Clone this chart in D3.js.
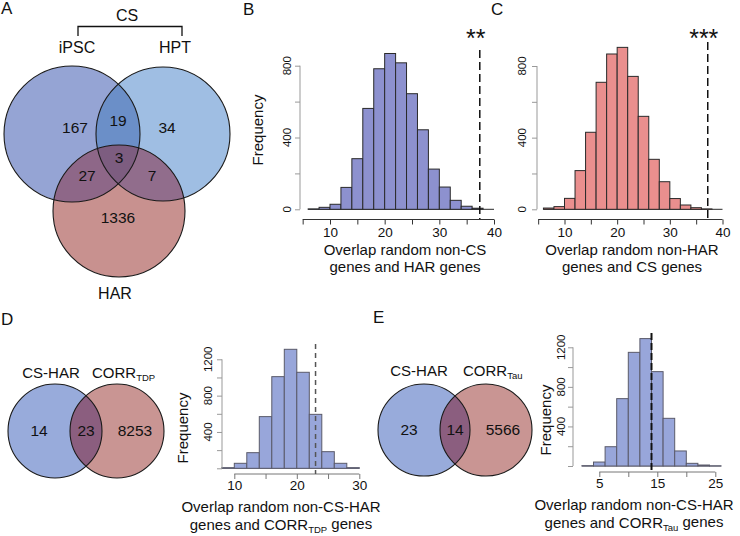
<!DOCTYPE html>
<html><head><meta charset="utf-8">
<script src="https://cdn.jsdelivr.net/npm/d3@7"></script>
<style>
body{margin:0;background:#fff}
svg{display:block}
text{font-family:"Liberation Sans",Arial,Helvetica,sans-serif;fill:#111}
</style>
</head><body>
<svg id="chart" width="740" height="536"></svg>
<script>
// ---------------- DATA ----------------
const panelLetters = ["A","B","C","D","E"];

// Panel A: 3-set Venn
const vennASets = ["iPSC","HPT","HAR"];
const vennAGroupLabel = "CS";
const vennARegions = ["iPSC","iPSC&HPT","HPT","iPSC&HAR","iPSC&HPT&HAR","HPT&HAR","HAR"];
const vennACounts = [167,19,34,27,3,7,1336];

// Panel D: 2-set Venn
const vennDSets = ["CS-HAR","CORR"];
const vennDSub = "TDP";
const vennDCounts = [14,23,8253];   // left only, overlap, right only

// Panel E: 2-set Venn
const vennESets = ["CS-HAR","CORR"];
const vennESub = "Tau";
const vennECounts = [23,14,5566];

// Panel B histogram (bin starts, width 2)
const histBBins = [6,8,10,12,14,16,18,20,22,24,26,28,30,32,34,36];
const histBCounts = [2,11,28,122,282,562,783,868,816,644,443,224,124,50,17,6];
const histBObserved = 37.4;
const histBStars = "**";
const histBTitle = ["Overlap random non-CS","genes and HAR genes"];

// Panel C histogram
const histCBins = [6,8,10,12,14,16,18,20,22,24,26,28,30,32,34,36];
const histCCounts = [7,15,61,216,430,709,867,904,742,519,279,154,60,24,9,2];
const histCObserved = 37.2;
const histCStars = "***";
const histCTitle = ["Overlap random non-HAR","genes and CS genes"];

// Panel D histogram
const histDBins = [8,10,12,14,16,18,20,22,24,26,28];
const histDCounts = [7,55,172,569,1009,1310,1057,594,183,55,7];
const histDObserved = 23;
const histDTitle = ["Overlap random non-CS-HAR","genes and CORR","TDP"," genes"];

// Panel E histogram
const histEBins = [2,4,6,8,10,12,14,16,18,20,22,24];
const histECounts = [3,40,195,681,1149,1288,954,482,152,27,10,1];
const histEObserved = 14;
const histETitle = ["Overlap random non-CS-HAR","genes and CORR","Tau"," genes"];

// Axis ticks
const ticksBCx = [5,10,15,20,25,30,35,40], labelsBCx = [10,20,30,40];
const ticksBCy = [0,200,400,600,800], labelsBCy = [0,400,800];
const ticksDx = [10,15,20,25,30], labelsDx = [10,20,30];
const ticksEx = [5,10,15,20,25], labelsEx = [5,15,25];
const ticksDEy = [0,200,400,600,800,1000,1200], labelsDEy = [400,800,1200];

// ---------------- DRAW ----------------
const svg = d3.select("#chart");

// panel letters
const letterPos = [[1,14],[243,15],[491,15],[1,325],[373,323]];
panelLetters.forEach((l,i)=>{
  svg.append("text").attr("x",letterPos[i][0]).attr("y",letterPos[i][1])
    .style("font-size","17px").text(l);
});

// ---- Panel A Venn ----
(function(){
  const g = svg.append("g");
  const circ = [{cx:72,cy:134,r:68},{cx:163,cy:134,r:67},{cx:119,cy:211,r:66}];
  const cols = {A:"#95a4d4",B:"#9fbee3",C:"#c8918f",AB:"#6b8fc8",AC:"#8e6788",BC:"#916d8c",ABC:"#7d5d80"};
  const defs = svg.append("defs");
  ["vA","vB","vC"].forEach((id,i)=>{
    defs.append("clipPath").attr("id",id).append("circle")
      .attr("cx",circ[i].cx).attr("cy",circ[i].cy).attr("r",circ[i].r);
  });
  const c = (sel,i,fill)=>sel.append("circle").attr("cx",circ[i].cx).attr("cy",circ[i].cy).attr("r",circ[i].r).attr("fill",fill);
  c(g,0,cols.A); c(g,1,cols.B); c(g,2,cols.C);
  c(g.append("g").attr("clip-path","url(#vA)"),1,cols.AB);
  c(g.append("g").attr("clip-path","url(#vA)"),2,cols.AC);
  c(g.append("g").attr("clip-path","url(#vB)"),2,cols.BC);
  c(g.append("g").attr("clip-path","url(#vA)").append("g").attr("clip-path","url(#vB)"),2,cols.ABC);
  circ.forEach((d,i)=>c(g,i,"none").attr("stroke","#1a1a1a").attr("stroke-width",1.1));
  const regionPos = {"iPSC":[75,127],"iPSC&HPT":[118,120],"HPT":[167,127],"iPSC&HAR":[87,175],
    "iPSC&HPT&HAR":[119,157],"HPT&HAR":[152,175],"HAR":[118,217]};
  vennARegions.forEach((r,i)=>{
    g.append("text").attr("x",regionPos[r][0]).attr("y",regionPos[r][1]).attr("dy","0.36em")
      .attr("text-anchor","middle").style("font-size","15.5px").text(vennACounts[i]);
  });
  const labPos = [[77,47],[175,47],[115,293]];
  vennASets.forEach((s,i)=>{
    g.append("text").attr("x",labPos[i][0]).attr("y",labPos[i][1]).attr("dy","0.36em")
      .attr("text-anchor","middle").style("font-size","16px").text(s);
  });
  g.append("text").attr("x",127).attr("y",15).attr("dy","0.36em").attr("text-anchor","middle")
    .style("font-size","16px").text(vennAGroupLabel);
  g.append("path").attr("d","M78,36V26.5H182V36").attr("fill","none").attr("stroke","#111").attr("stroke-width",1.3);
})();

// ---- 2-set Venns ----
function venn2(cx1,cx2,cy,r,sets,sub,counts,labY,labX1,corrX){
  const g = svg.append("g");
  const id = "v2"+Math.round(cx1);
  svg.select("defs").append("clipPath").attr("id",id).append("circle").attr("cx",cx1).attr("cy",cy).attr("r",r);
  g.append("circle").attr("cx",cx1).attr("cy",cy).attr("r",r).attr("fill","#98abdb");
  g.append("circle").attr("cx",cx2).attr("cy",cy).attr("r",r).attr("fill","#c99593");
  g.append("g").attr("clip-path",`url(#${id})`).append("circle").attr("cx",cx2).attr("cy",cy).attr("r",r).attr("fill","#8b5e7f");
  [cx1,cx2].forEach(x=>g.append("circle").attr("cx",x).attr("cy",cy).attr("r",r).attr("fill","none").attr("stroke","#1a1a1a").attr("stroke-width",1.1));
  const ov = (cx1+r + cx2-r)/2;
  const pos = [ (cx1-r+cx2-r)/2 , ov, (cx1+r+cx2+r)/2 + 2 ];
  counts.forEach((v,i)=>{
    g.append("text").attr("x",pos[i]).attr("y",cy-1).attr("dy","0.36em").attr("text-anchor","middle")
      .style("font-size","15.5px").text(v);
  });
  g.append("text").attr("x",labX1).attr("y",labY).attr("dy","0.36em").attr("text-anchor","middle")
    .style("font-size","15px").text(sets[0]);
  const t = g.append("text").attr("x",corrX).attr("y",labY).attr("dy","0.36em").style("font-size","15px");
  t.append("tspan").text(sets[1]);
  t.append("tspan").attr("dy","0.3em").style("font-size","9.5px").text(sub);
}
venn2(55,117,431,47,vennDSets,vennDSub,vennDCounts,373,51,92);
venn2(424,486,430,46,vennESets,vennESub,vennECounts,371,419,463);

// ---- Histograms ----
function hist(o){
  const g = svg.append("g");
  const x = d3.scaleLinear().domain(o.xd).range(o.xr);
  const y = d3.scaleLinear().domain(o.yd).range(o.yr);
  g.append("line").attr("x1",x(o.base[0])).attr("x2",x(o.base[1])).attr("y1",y(0)).attr("y2",y(0))
    .attr("stroke",o.stroke).attr("stroke-width",1);
  g.selectAll("rect.bar").data(o.bins.map((b,i)=>({b,c:o.counts[i]}))).join("rect")
    .attr("x",d=>x(d.b)).attr("width",d=>x(d.b+2)-x(d.b))
    .attr("y",d=>y(d.c)).attr("height",d=>y(0)-y(d.c))
    .attr("fill",o.fill).attr("stroke",o.stroke).attr("stroke-width",o.sw||1);
  const xa = g.append("g").attr("transform",`translate(0,${o.xAxisY})`)
    .call(d3.axisBottom(x).tickValues(o.xt).tickSize(5).tickSizeOuter(0)
      .tickFormat(v=>o.xl.includes(v)?v:""));
  xa.select(".domain").remove();
  xa.append("line").attr("x1",x(o.xt[0])).attr("x2",x(o.xt[o.xt.length-1])).attr("stroke",o.xAxisCol);
  xa.selectAll(".tick line").attr("stroke",o.xAxisCol);
  xa.selectAll(".tick text").attr("y",o.xLabDy).attr("dy","0.36em").style("font-size","13.5px")
    .style("font-family","Liberation Sans, Arial, sans-serif").attr("fill","#111");
  const ya = g.append("g").attr("transform",`translate(${o.yAxisX},0)`)
    .call(d3.axisLeft(y).tickValues(o.yt).tickSize(5).tickSizeOuter(0).tickFormat(""));
  ya.select(".domain").remove();
  ya.append("line").attr("y1",y(o.yt[0])).attr("y2",y(o.yt[o.yt.length-1])).attr("stroke",o.yAxisCol);
  ya.selectAll(".tick line").attr("stroke",o.yAxisCol);
  o.yl.forEach(v=>{
    g.append("text").attr("transform",`translate(${o.yLabX},${y(v)}) rotate(-90)`)
      .attr("dy","0.36em").attr("text-anchor","middle").style("font-size","11.5px").text(v);
  });
  g.append("line").attr("x1",x(o.obs)).attr("x2",x(o.obs)).attr("y1",o.dashTop).attr("y2",o.dashBot)
    .attr("stroke",o.dashCol).attr("stroke-width",o.dashW).attr("stroke-dasharray",o.dash);
  if(o.stars){
    g.append("text").attr("x",x(o.obs)-4).attr("y",o.starY).attr("text-anchor","middle")
      .style("font-size","25px").text(o.stars);
  }
  if(o.freq){
    g.append("text").attr("transform",`translate(${o.freq[0]},${o.freq[1]}) rotate(-90)`)
      .attr("dy","0.36em").attr("text-anchor","middle").style("font-size","15px").text("Frequency");
  }
  g.append("text").attr("x",o.titleX).attr("y",o.titleY[0]).attr("dy","0.36em").attr("text-anchor","middle")
    .style("font-size","15px").text(o.title[0]);
  const t2 = g.append("text").attr("x",o.titleX).attr("y",o.titleY[1]).attr("dy","0.36em").attr("text-anchor","middle")
    .style("font-size","15px");
  if(o.title.length>2){
    t2.append("tspan").text(o.title[1]);
    t2.append("tspan").attr("dy","0.3em").style("font-size","9.5px").text(o.title[2]);
    t2.append("tspan").attr("dy","-0.3em").text(o.title[3]);
  } else t2.text(o.title[1]);
}

hist({xd:[10,40],xr:[330,494],yd:[0,800],yr:[209.3,65.7],bins:histBBins,counts:histBCounts,base:[6,40],
  fill:"#8d91cf",stroke:"#2a2a2a",xAxisY:219.5,xt:ticksBCx,xl:labelsBCx,xLabDy:12.5,xAxisCol:"#333",
  yAxisX:300,yt:ticksBCy,yl:labelsBCy,yLabX:287,yAxisCol:"#999",
  obs:histBObserved,dashTop:50,dashBot:219,dashCol:"#111",dashW:1.5,dash:"8,4",stars:histBStars,starY:47,
  freq:[258,130],title:histBTitle,titleX:405,titleY:[250,267]});

hist({xd:[10,40],xr:[564.5,722.5],yd:[0,800],yr:[209.3,66],bins:histCBins,counts:histCCounts,base:[6,40],
  fill:"#ea8f8e",stroke:"#2a2a2a",xAxisY:219.5,xt:ticksBCx,xl:labelsBCx,xLabDy:12.5,xAxisCol:"#333",
  yAxisX:537,yt:ticksBCy,yl:labelsBCy,yLabX:522,yAxisCol:"#999",
  obs:histCObserved,dashTop:42,dashBot:219,dashCol:"#111",dashW:1.5,dash:"8,4",stars:histCStars,starY:47,
  freq:null,title:histCTitle,titleX:632,titleY:[250,267]});

hist({xd:[10,30],xr:[234.3,359.3],yd:[0,1200],yr:[468.3,359.3],bins:histDBins,counts:histDCounts,base:[8,30],
  fill:"#98a6da",stroke:"#5a5a6a",xAxisY:474,xt:ticksDx,xl:labelsDx,xLabDy:11,xAxisCol:"#777",
  yAxisX:222,yt:ticksDEy,yl:labelsDEy,yLabX:208,yAxisCol:"#999",
  obs:histDObserved,dashTop:344,dashBot:474,dashCol:"#555",dashW:1.5,dash:"5,4",stars:null,
  freq:[183,428],title:histDTitle,titleX:281,titleY:[507,525]});

hist({xd:[5,25],xr:[599.3,715.3],yd:[0,1200],yr:[466,347.3],bins:histEBins,counts:histECounts,base:[2,26],
  fill:"#98a6da",stroke:"#5a5a6a",xAxisY:472,xt:ticksEx,xl:labelsEx,xLabDy:11,xAxisCol:"#777",
  yAxisX:573,yt:ticksDEy,yl:labelsDEy,yLabX:561,yAxisCol:"#999",
  obs:histEObserved,dashTop:333,dashBot:472,dashCol:"#111",dashW:2,dash:"7,3",stars:null,
  freq:[546,420],title:histETitle,titleX:634,titleY:[505,523]});
</script>
</body></html>
